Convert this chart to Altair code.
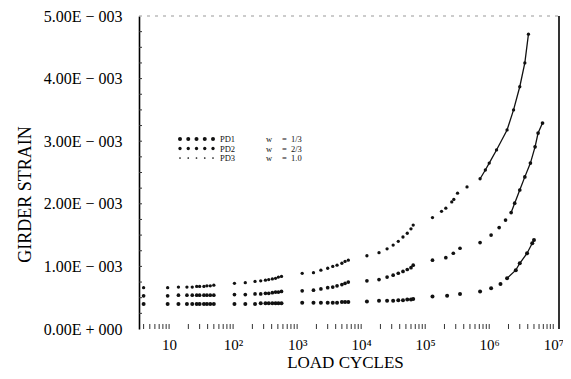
import altair as alt
import pandas as pd

# ---- data (strain in units of 1E-003) ----
N_early = [4, 9.5, 14, 19, 23, 27, 30, 35, 39, 44, 50,
           105, 155, 220, 270, 320, 360, 410, 460, 510, 570,
           1200, 1800, 2350, 3000, 3600, 4200, 5000, 5600, 6300,
           12300, 19000, 25400, 31600, 38000, 45000, 52500, 60000, 65000]

pd1_early = [0.40, 0.40, 0.40, 0.40, 0.40, 0.40, 0.40, 0.40, 0.40, 0.40, 0.40,
             0.40, 0.40, 0.40, 0.41, 0.41, 0.41, 0.41, 0.41, 0.41, 0.41,
             0.42, 0.42, 0.42, 0.42, 0.42, 0.42, 0.43, 0.43, 0.43,
             0.44, 0.45, 0.45, 0.45, 0.46, 0.46, 0.47, 0.47, 0.48]
pd2_early = [0.53, 0.53, 0.54, 0.54, 0.54, 0.54, 0.54, 0.54, 0.54, 0.54, 0.54,
             0.55, 0.55, 0.56, 0.56, 0.57, 0.57, 0.58, 0.59, 0.59, 0.60,
             0.61, 0.62, 0.64, 0.66, 0.67, 0.69, 0.71, 0.73, 0.75,
             0.77, 0.79, 0.83, 0.86, 0.89, 0.92, 0.95, 0.98, 1.02]
pd3_early = [0.66, 0.66, 0.67, 0.67, 0.67, 0.68, 0.68, 0.68, 0.69, 0.69, 0.70,
             0.73, 0.74, 0.76, 0.77, 0.78, 0.79, 0.80, 0.81, 0.83, 0.84,
             0.89, 0.90, 0.94, 0.97, 1.00, 1.02, 1.05, 1.08, 1.10,
             1.17, 1.22, 1.28, 1.34, 1.40, 1.47, 1.53, 1.60, 1.66]

pd1_tail_N = [1.3e5, 2.2e5, 3.5e5, 7.2e5, 1.07e6, 1.5e6, 1.9e6, 2.6e6, 3.0e6, 3.9e6, 4.7e6, 5.0e6]
pd1_tail_v = [0.52, 0.53, 0.56, 0.60, 0.65, 0.72, 0.81, 0.94, 1.05, 1.21, 1.37, 1.42]

pd2_tail_N = [1.3e5, 2.1e5, 2.75e5, 3.5e5, 7.2e5, 1.07e6, 1.43e6, 1.8e6, 2.2e6, 2.5e6,
              3.0e6, 3.6e6, 4.4e6, 5.2e6, 5.8e6, 6.8e6]
pd2_tail_v = [1.10, 1.14, 1.21, 1.29, 1.38, 1.50, 1.62, 1.74, 1.86, 2.01,
              2.22, 2.43, 2.65, 2.91, 3.13, 3.29]

pd3_tail_N = [1.3e5, 1.8e5, 2.1e5, 2.6e5, 2.8e5, 3.2e5, 4.5e5, 7.2e5, 8.7e5, 1.0e6,
              1.3e6, 1.9e6, 2.4e6, 3.0e6, 3.6e6, 4.1e6]
pd3_tail_v = [1.78, 1.88, 1.93, 2.03, 2.07, 2.17, 2.27, 2.40, 2.54, 2.65,
              2.86, 3.18, 3.50, 3.87, 4.25, 4.71]

series_names = ["PD1", "PD2", "PD3"]
legend_w = ["1/3", "2/3", "1.0"]
y_ticks = [0, 0.001, 0.002, 0.003, 0.004, 0.005]
x_ticks = [10, 100, 1000, 10000, 100000, 1000000, 10000000]

# ---- build table ----
rows = []
for name, ev, tn, tv in [("PD1", pd1_early, pd1_tail_N, pd1_tail_v),
                          ("PD2", pd2_early, pd2_tail_N, pd2_tail_v),
                          ("PD3", pd3_early, pd3_tail_N, pd3_tail_v)]:
    for n, v in zip(N_early + tn, ev + tv):
        rows.append({"series": name, "N": n, "strain": v * 1e-3})
df = pd.DataFrame(rows)

W, H = 420, 313
FONT = "Liberation Serif"
INK = "#111111"
xdom = [3.39, 1.23e7]
xscale = alt.Scale(type="log", domain=xdom, nice=False)
yscale = alt.Scale(domain=[0, 0.005], nice=False, zero=True)

sup = {2: "\u00b2", 3: "\u00b3", 4: "\u2074", 5: "\u2075", 6: "\u2076", 7: "\u2077"}
xexpr = "datum.value < 50 ? '10' : "
parts = []
for k in range(2, 8):
    parts.append(f"datum.value < {10**k * 5} ? '10{sup[k]}' : ")
xexpr = xexpr + "".join(parts) + "''"
yexpr = ("datum.value == 0 ? '0.00E + 000' : "
         "format(datum.value * 1000, '.2f') + 'E \u2212 003'")

sizes = {"PD1": 16, "PD2": 11, "PD3": 3}

x_axis = alt.Axis(values=x_ticks, labelExpr=xexpr, domain=False, ticks=False,
                  grid=False, labelFont=FONT, labelFontSize=15, labelColor="black",
                  labelPadding=8, labelFlush=False,
                  title="LOAD CYCLES", titleFont=FONT, titleFontSize=17,
                  titleFontWeight="normal", titleColor="black",
                  titleX=206, titleY=42, titleBaseline="bottom",
                  titleAlign="center")
y_axis = alt.Axis(values=y_ticks, labelExpr=yexpr, domain=True, domainColor="black",
                  domainWidth=1.6, ticks=False, grid=False, labelFont=FONT,
                  labelFontSize=16, labelColor="black", labelPadding=17,
                  title="GIRDER STRAIN", titleFont=FONT, titleFontSize=18,
                  titleFontWeight="normal", titleColor="black", titleAngle=270,
                  titleX=-109, titleY=178, titleBaseline="alphabetic",
                  titleAlign="center")

points = alt.Chart(df).mark_point(filled=True, color=INK, opacity=1).encode(
    x=alt.X("N:Q", scale=xscale, axis=x_axis),
    y=alt.Y("strain:Q", scale=yscale, axis=y_axis),
    size=alt.Size("series:N",
                  scale=alt.Scale(domain=series_names,
                                  range=[sizes[s] for s in series_names]),
                  legend=None),
)

tails = alt.Chart(df).transform_filter(
    "(datum.series == 'PD1' && datum.N >= 1.9e6) || "
    "(datum.series == 'PD2' && datum.N >= 2.2e6) || "
    "(datum.series == 'PD3' && datum.N >= 7e5)"
).mark_line(color=INK, strokeWidth=1.3).encode(
    x=alt.X("N:Q", scale=xscale, axis=x_axis),
    y=alt.Y("strain:Q", scale=yscale, axis=y_axis),
    detail="series:N",
)

# minor inward ticks on the bottom and left edges
minor_x = []
for k in range(0, 8):
    for d in range(1, 10):
        v = d * 10 ** k
        if xdom[0] <= v <= xdom[1]:
            minor_x.append(v)
bottom_ticks = alt.Chart(pd.DataFrame({"N": minor_x})).mark_rule(
    color="#333333", strokeWidth=1).encode(
    x=alt.X("N:Q", scale=xscale, axis=x_axis),
    y=alt.value(H - 5), y2=alt.value(H))

left_tick_vals = [i * 0.00025 for i in range(1, 20)]
left_ticks = alt.Chart(pd.DataFrame({"strain": left_tick_vals})).mark_rule(
    color="#333333", strokeWidth=1).encode(
    y=alt.Y("strain:Q", scale=yscale, axis=y_axis),
    x=alt.value(0), x2=alt.value(3))

one = pd.DataFrame({"a": [0]})
top_border = alt.Chart(one).mark_rule(color="#999999", strokeWidth=1,
                                      strokeDash=[3, 5]).encode(
    x=alt.value(0), x2=alt.value(W), y=alt.value(0))
right_border = alt.Chart(one).mark_rule(color="black", strokeWidth=1.6).encode(
    x=alt.value(W), y=alt.value(0), y2=alt.value(H))

# legend
legend_layers = []
row_y = [123, 132.5, 142]
for i, name in enumerate(series_names):
    for j in range(5):
        legend_layers.append(
            alt.Chart(one).mark_point(filled=True, color=INK, opacity=1,
                                      size=sizes[name]).encode(
                x=alt.value(41 + 8.25 * j), y=alt.value(row_y[i])))
    for txt, xp in [(name, 81), ("w", 127), ("=", 143), (legend_w[i], 152)]:
        legend_layers.append(
            alt.Chart(one).mark_text(align="left", baseline="middle", font=FONT,
                                     fontSize=8.5, color=INK).encode(
                x=alt.value(xp), y=alt.value(row_y[i]), text=alt.value(txt)))

chart = alt.layer(points, tails, bottom_ticks, left_ticks, top_border, right_border,
                  *legend_layers).properties(
    width=W, height=H,
    autosize=alt.AutoSizeParams(type="none"),
    padding={"left": 131, "top": 8, "right": 4, "bottom": 42},
    background="white",
).configure_view(stroke=None).configure_axis(
    labelFont=FONT, titleFont=FONT
).configure_text(font=FONT)

chart.save("out.html", embed_options={"renderer": "svg", "actions": False})
